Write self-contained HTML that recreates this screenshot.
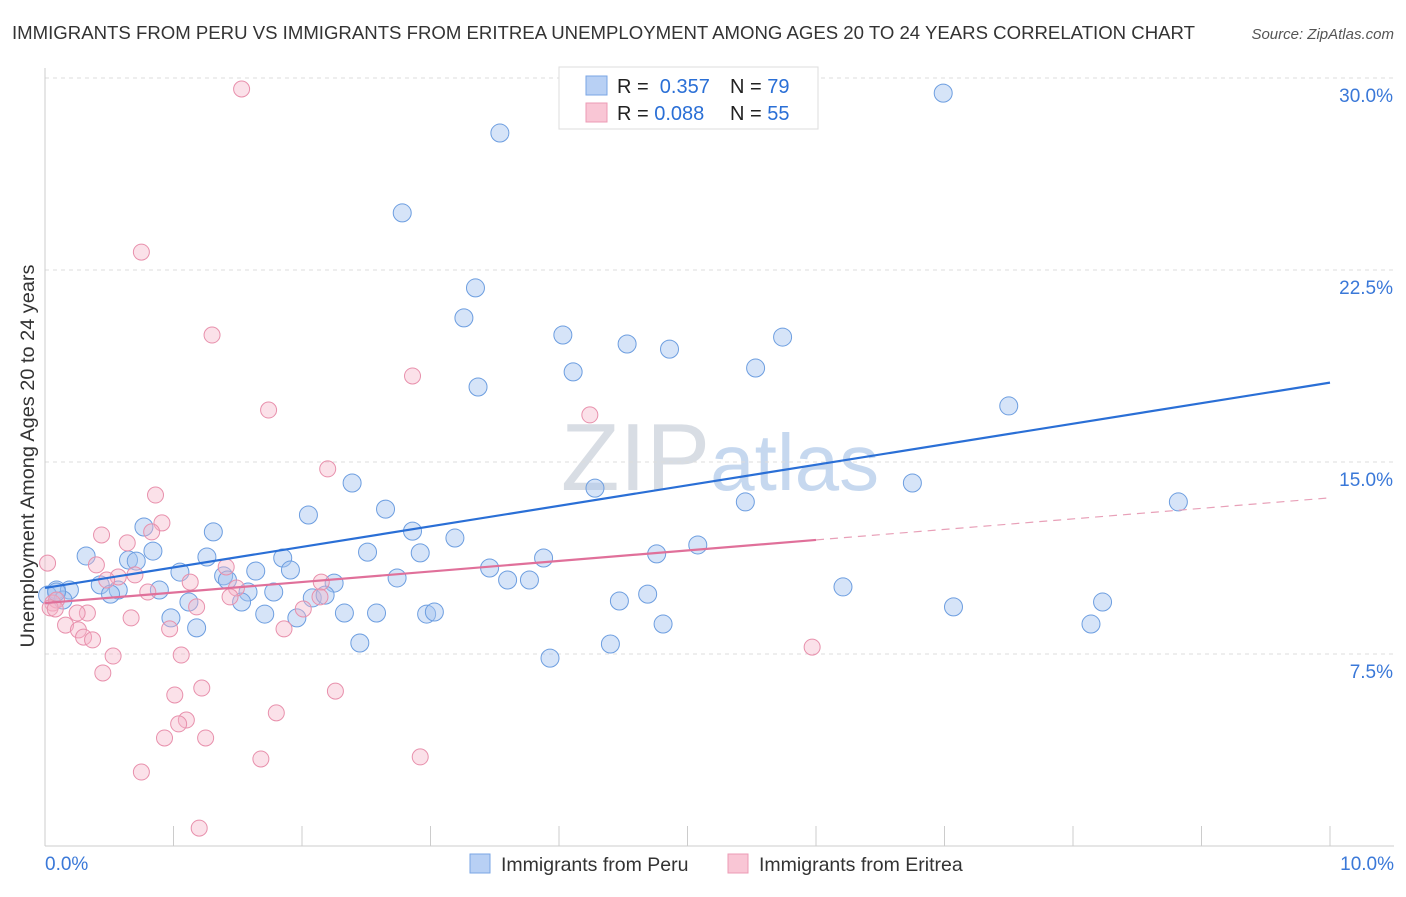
<!DOCTYPE html>
<html><head><meta charset="utf-8"><style>
body{margin:0;background:#fff;font-family:"Liberation Sans",sans-serif;}
svg text{font-family:"Liberation Sans",sans-serif;}
</style></head><body>
<svg id="chart" width="1406" height="892" viewBox="0 0 1406 892" xmlns="http://www.w3.org/2000/svg">
<text x="12" y="39" font-size="18" fill="#333" textLength="1183" lengthAdjust="spacingAndGlyphs">IMMIGRANTS FROM PERU VS IMMIGRANTS FROM ERITREA UNEMPLOYMENT AMONG AGES 20 TO 24 YEARS CORRELATION CHART</text>
<text x="1394" y="39" font-size="15" fill="#555" font-style="italic" text-anchor="end">Source: ZipAtlas.com</text>
<text x="720" y="490" font-size="96" fill="#d8dde4" text-anchor="middle" font-family="Liberation Serif">ZIP<tspan fill="#c6d8ef" font-family="Liberation Sans" font-size="80">atlas</tspan></text>
<g id="grid"></g><g id="axes"></g><g id="pts"></g><g id="lines"></g>
<text transform="translate(34,456) rotate(-90)" font-size="19" fill="#333" text-anchor="middle" textLength="383" lengthAdjust="spacingAndGlyphs">Unemployment Among Ages 20 to 24 years</text>
<g>
<rect x="559" y="67" width="259" height="62" fill="#fff" stroke="#ddd"/>
<rect x="586" y="76" width="21" height="19" fill="#b8d0f4" stroke="#7aa6e4"/>
<rect x="586" y="103" width="21" height="19" fill="#f9c6d5" stroke="#ec9bb5"/>
<text x="617" y="93" font-size="20" fill="#222">R = <tspan fill="#2a6fd6">&#160;0.357</tspan><tspan x="730">N = </tspan><tspan fill="#2a6fd6">79</tspan></text>
<text x="617" y="120" font-size="20" fill="#222">R = <tspan fill="#2a6fd6">0.088</tspan><tspan x="730">N = </tspan><tspan fill="#2a6fd6">55</tspan></text>
</g>
<g>
<rect x="470" y="854" width="20" height="19" fill="#b8d0f4" stroke="#7aa6e4"/>
<text x="501" y="871" font-size="19.5" fill="#333">Immigrants from Peru</text>
<rect x="728" y="854" width="20" height="19" fill="#f9c6d5" stroke="#ec9bb5"/>
<text x="759" y="871" font-size="19.5" fill="#333">Immigrants from Eritrea</text>
</g>
</svg>
<script>
const xTicks=[0,1,2,3,4,5,6,7,8,9,10];
const yTicks=[7.5,15,22.5,30];
const yTickLabels=["7.5%","15.0%","22.5%","30.0%"];
const xEndLabels=["0.0%","10.0%"];
const peruX=[3.54,2.78,6.99,5.89,3.35,3.26,4.03,4.53,4.86,5.74,4.11,5.53,3.37,7.50,2.39,4.28,6.75,5.45,8.82,2.65,2.05,2.86,1.31,3.19,0.77,0.32,0.84,5.08,4.76,3.88,2.92,2.51,0.65,0.71,1.26,1.85,3.46,1.05,1.64,1.91,2.74,3.60,3.77,2.25,1.39,1.42,0.43,0.57,0.09,0.19,0.02,0.51,0.14,0.89,1.58,1.78,2.08,2.18,6.21,4.47,4.69,8.23,7.07,1.12,1.53,1.71,2.33,2.58,2.97,3.03,0.98,1.18,1.96,4.81,8.14,2.45,3.93,4.40,0.09];
const peruY=[27.85,24.73,29.41,28.36,21.80,20.63,19.96,19.61,19.41,19.88,18.52,18.67,17.93,17.19,14.18,13.98,14.18,13.44,13.44,13.16,12.93,12.30,12.27,12.03,12.46,11.33,11.52,11.76,11.41,11.25,11.45,11.48,11.17,11.13,11.29,11.25,10.86,10.70,10.74,10.78,10.47,10.39,10.39,10.27,10.55,10.39,10.20,10.00,10.00,10.00,9.80,9.84,9.61,10.00,9.92,9.92,9.69,9.80,10.12,9.57,9.84,9.53,9.34,9.53,9.53,9.06,9.10,9.10,9.06,9.14,8.91,8.52,8.91,8.67,8.67,7.93,7.34,7.89,9.92];
const eritX=[1.53,0.75,1.30,2.86,1.74,4.24,2.20,0.86,0.91,0.44,0.83,0.64,0.02,0.40,0.70,0.57,1.41,1.13,0.48,0.80,2.15,1.49,1.44,2.14,0.06,0.09,0.04,0.33,0.25,1.18,2.01,0.67,0.16,0.26,0.30,0.37,0.97,1.86,0.53,1.06,0.45,1.22,1.01,2.26,1.80,1.10,1.04,0.93,1.25,1.68,2.92,0.75,1.20,5.97,0.08];
const eritY=[29.57,23.20,19.96,18.36,17.03,16.84,14.73,13.71,12.62,12.15,12.27,11.84,11.05,10.98,10.59,10.51,10.90,10.31,10.39,9.92,10.31,10.08,9.73,9.73,9.49,9.61,9.30,9.10,9.10,9.34,9.26,8.91,8.63,8.44,8.16,8.05,8.48,8.48,7.42,7.46,6.76,6.17,5.90,6.05,5.20,4.92,4.77,4.22,4.22,3.40,3.48,2.89,0.70,7.77,9.26];
const peruTrend=[10.08,18.1];
const eritTrend=[9.49,13.6];
const eritSolidEnd=6;
const X=v=>45+v*128.5, Y=v=>846-v*25.6;
const NS="http://www.w3.org/2000/svg";
function mk(p,t,a){const e=document.createElementNS(NS,t);for(const k in a)e.setAttribute(k,a[k]);p.appendChild(e);return e;}
const grid=document.getElementById('grid'),axes=document.getElementById('axes'),pts=document.getElementById('pts'),lines=document.getElementById('lines');
yTicks.forEach((t,i)=>{
 const l=mk(grid,'line',{x1:45,x2:1394,y1:Y(t),y2:Y(t),stroke:'#ddd','stroke-dasharray':'4,4'});
 
 
 const tx=mk(axes,'text',{x:1393,y:Y(t)+24,'font-size':19,fill:'#3a78d8','text-anchor':'end'});tx.textContent=yTickLabels[i];
 
 
});
const ax=mk(axes,'line',{x1:45,x2:1394,y1:846,y2:846,stroke:'#ccc'});


const ay=mk(axes,'line',{x1:45,x2:45,y1:68,y2:846,stroke:'#ccc'});


xTicks.forEach(t=>{const l=mk(axes,'line',{x1:X(t),x2:X(t),y1:826,y2:846,stroke:'#ccc'});
 
 });
[[0,'start',45],[10,'end',1394]].forEach((d,i)=>{const tx=mk(axes,'text',{x:d[2],y:870,'font-size':19,fill:'#3a78d8','text-anchor':d[1]});tx.textContent=xEndLabels[i];
 
 });
peruX.forEach((v,i)=>{const c=mk(pts,'circle',{cx:X(v),cy:Y(peruY[i]),r:9,fill:'rgba(164,196,240,0.45)',stroke:'#6d9ee0','stroke-width':1});
 
 });
eritX.forEach((v,i)=>{const c=mk(pts,'circle',{cx:X(v),cy:Y(eritY[i]),r:8,fill:'rgba(244,180,200,0.4)',stroke:'#e890ac','stroke-width':1});
 
 });
const bl=mk(lines,'line',{x1:X(0),y1:Y(peruTrend[0]),x2:X(10),y2:Y(peruTrend[1]),stroke:'#2a6fd6','stroke-width':2.2});


const em=eritTrend[0]+(eritTrend[1]-eritTrend[0])*eritSolidEnd/10;
const pl=mk(lines,'line',{x1:X(0),y1:Y(eritTrend[0]),x2:X(eritSolidEnd),y2:Y(em),stroke:'#e0709a','stroke-width':2.2});


const pd=mk(lines,'line',{x1:X(eritSolidEnd),y1:Y(em),x2:X(10),y2:Y(eritTrend[1]),stroke:'#e8a0b8','stroke-width':1.2,'stroke-dasharray':'8,6'});


</script>
</body></html>
